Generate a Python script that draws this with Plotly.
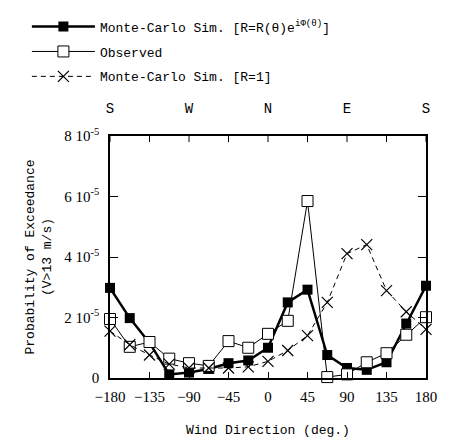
import plotly.graph_objects as go

# wind direction (deg), every 22.5 deg
direction = [-180, -157.5, -135, -112.5, -90, -67.5, -45, -22.5, 0,
             22.5, 45, 67.5, 90, 112.5, 135, 157.5, 180]

# probabilities of exceedance, in units of 1e-5
mc_sim_phase = [2.98, 1.98, 1.16, 0.12, 0.18, 0.30, 0.49, 0.58, 1.00,
                2.50, 2.92, 0.76, 0.33, 0.27, 0.52, 1.80, 3.05]
observed = [1.95, 1.03, 1.19, 0.64, 0.49, 0.40, 1.22, 1.00, 1.46,
            1.89, 5.85, 0.03, 0.12, 0.52, 0.82, 1.43, 2.01]
mc_sim_r1 = [1.55, 1.10, 0.76, 0.46, 0.33, 0.33, 0.33, 0.37, 0.55,
             0.91, 1.40, 2.50, 4.11, 4.41, 2.89, 2.19, 1.61]

x_ticks = [-180, -135, -90, -45, 0, 45, 90, 135, 180]
compass_ticks = [-180, -90, 0, 90, 180]
compass_labels = ["S", "W", "N", "E", "S"]
y_ticks = [0, 2, 4, 6, 8]
y_labels = ["0", "2 10<sup>-5</sup>", "4 10<sup>-5</sup>",
            "6 10<sup>-5</sup>", "8 10<sup>-5</sup>"]

mono = "Liberation Mono"
serif = "Liberation Serif"

fig = go.Figure()

fig.add_trace(go.Scatter(
    x=direction, y=mc_sim_phase, mode="lines+markers",
    name="Monte-Carlo Sim. [R=R(\u03b8)e<sup>i\u03a6(\u03b8)</sup>]",
    legendgroup="a",
    line=dict(color="black", width=2.5),
    marker=dict(symbol="square", size=10, color="black"),
    cliponaxis=False,
))

fig.add_trace(go.Scatter(
    x=direction, y=observed, mode="lines+markers",
    name="Observed", legendgroup="b",
    line=dict(color="black", width=1),
    marker=dict(symbol="square", size=11, color="white",
                line=dict(color="black", width=1)),
    cliponaxis=False,
))

fig.add_trace(go.Scatter(
    x=direction, y=mc_sim_r1, mode="lines+markers",
    name="Monte-Carlo Sim. [R=1]", legendgroup="c",
    line=dict(color="black", width=1, dash="5px,4px"),
    marker=dict(symbol="x-thin-open", size=11, color="black",
                line=dict(color="black", width=1.2)),
    cliponaxis=False,
))

# invisible trace for the top compass axis
fig.add_trace(go.Scatter(x=[-180, 180], y=[0, 0], xaxis="x2", mode="markers",
                         marker=dict(opacity=0), showlegend=False,
                         hoverinfo="skip"))

fig.update_layout(
    template="none",
    width=453, height=438,
    margin=dict(l=110, r=27, t=120, b=60),
    paper_bgcolor="white", plot_bgcolor="white",
    font=dict(family=serif, color="black", size=14),
    xaxis=dict(
        range=[-180, 180], tickvals=x_ticks, automargin=False,
        ticks="inside", ticklen=6, tickcolor="black",
        showline=True, linecolor="black", linewidth=1.5,
        showgrid=False, zeroline=False, ticklabelstandoff=4,
        tickfont=dict(family=serif, size=15),
        title=dict(text="Wind Direction (deg.)",
                   font=dict(family=mono, size=13), standoff=22),
    ),
    xaxis2=dict(
        range=[-180, 180], overlaying="x", side="top", automargin=False,
        tickvals=compass_ticks, ticktext=compass_labels,
        ticks="", showline=True, linecolor="black", linewidth=1.5,
        showgrid=False, zeroline=False, ticklabelstandoff=16,
        tickfont=dict(family=mono, size=14),
    ),
    yaxis=dict(
        range=[0, 8], tickvals=y_ticks, ticktext=y_labels, automargin=False,
        ticks="inside", ticklen=8, tickcolor="black",
        showline=True, linecolor="black", linewidth=1.5, mirror="ticks",
        showgrid=False, zeroline=False, ticklabelstandoff=6,
        tickfont=dict(family=serif, size=15),
        title=dict(text="Probability of Exceedance<br>(V>13 m/s)",
                   font=dict(family=mono, size=13), standoff=10),
    ),
    legend=dict(
        x=-0.263, y=1.514, xanchor="left", yanchor="top",
        font=dict(family=mono, size=13),
        itemwidth=63, tracegroupgap=5,
        bgcolor="rgba(0,0,0,0)",
    ),
)

# inward ticks on the top edge as well
for t in x_ticks:
    fig.add_shape(type="line", xref="x", yref="y", x0=t, x1=t, y0=8, y1=7.8,
                  line=dict(color="black", width=1))

# drop the browser's default body margin so the figure fills the window
fig.write_html("out.html", config={"displayModeBar": False},
               post_script="document.body.style.margin='0';")
